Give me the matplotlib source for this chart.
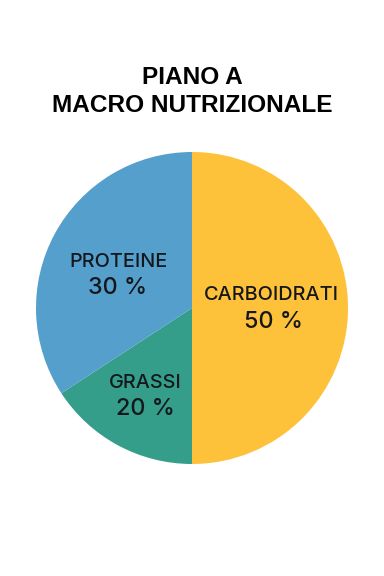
import matplotlib
matplotlib.use("Agg")
import matplotlib.pyplot as plt

# Data
categories = ["CARBOIDRATI", "GRASSI", "PROTEINE"]
wedge_sizes = [50, 15.8, 34.2]          # wedge sizes as drawn in the picture
pct_labels = ["50 %", "20 %", "30 %"]    # percentages as printed
colors = ["#FDC13A", "#359E8A", "#559FCC"]
title_lines = ["PIANO A", "MACRO NUTRIZIONALE"]

fig = plt.figure(figsize=(3.84, 5.76), dpi=100)
fig.patch.set_facecolor("white")

W, H = 384, 576
cx, cy, r = 192, 308, 156
ax = fig.add_axes([(cx - r) / W, (H - cy - r) / H, 2 * r / W, 2 * r / H])
ax.pie(wedge_sizes, colors=colors, startangle=90, counterclock=False,
       radius=1.0, wedgeprops=dict(linewidth=0))
ax.set_xlim(-1, 1)
ax.set_ylim(-1, 1)
ax.set_aspect("auto")
ax.axis("off")

# label positions (data coords, relative to pie centre)
name_pos = [(0.51, 0.083), (-0.30, -0.48), (-0.474, 0.295)]
pct_pos = [(0.52, -0.09), (-0.30, -0.647), (-0.474, 0.128)]
txtc = "#14181c"
for cat, pl, npos, ppos in zip(categories, pct_labels, name_pos, pct_pos):
    ax.text(npos[0], npos[1], cat, ha="center", va="center", fontsize=14.3,
            family="Inter", fontweight="medium", color=txtc)
    ax.text(ppos[0], ppos[1], pl, ha="center", va="center", fontsize=16.8,
            family="Inter", fontweight="medium", color=txtc)

fig.text(0.5, 1 - 78 / H, title_lines[0], ha="center", va="center",
         fontsize=17.6, family="Liberation Sans", fontweight="bold", color="#000000")
fig.text(0.5, 1 - 106 / H, title_lines[1], ha="center", va="center",
         fontsize=17.6, family="Liberation Sans", fontweight="bold", color="#000000")

fig.savefig("out.png", dpi=100, facecolor="white")
